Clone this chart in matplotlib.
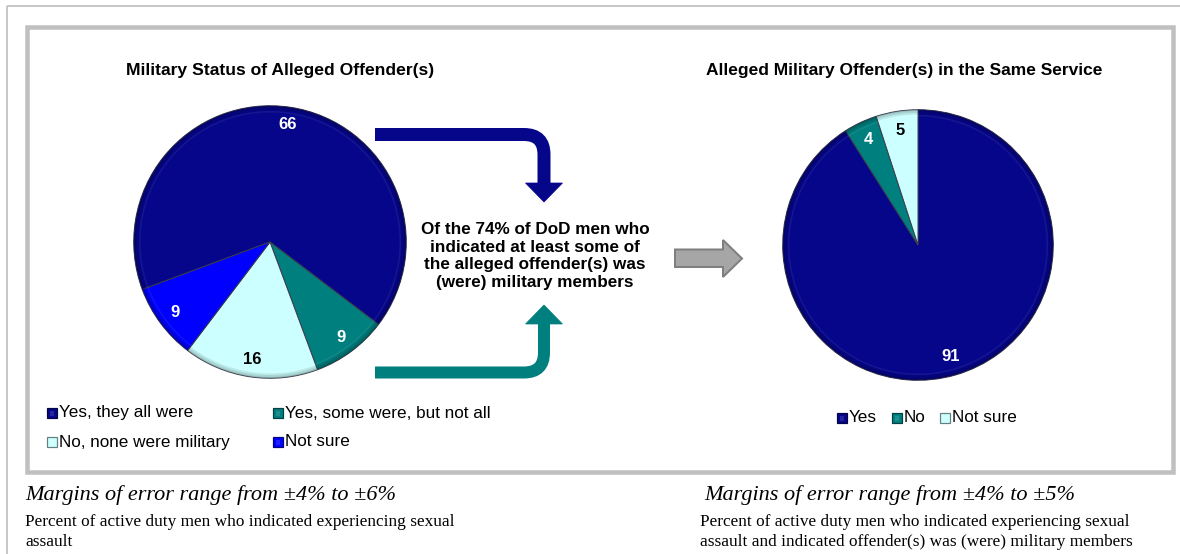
import matplotlib
matplotlib.use("Agg")
import matplotlib.pyplot as plt
import matplotlib.colors as mcolors
from matplotlib.patches import Rectangle, Polygon, PathPatch, Wedge
from matplotlib.path import Path

# ---------------- data ----------------
left_title = "Military Status of Alleged Offender(s)"
left_labels = ["Yes, they all were", "Yes, some were, but not all",
               "No, none were military", "Not sure"]
left_values = [66, 9, 16, 9]
left_colors = ["#06068a", "#007f7f", "#ccffff", "#0000ff"]

right_title = "Alleged Military Offender(s) in the Same Service"
right_labels = ["Yes", "No", "Not sure"]
right_values = [91, 4, 5]
right_colors = ["#06068a", "#007f7f", "#ccffff"]

middle_text = ("Of the 74% of DoD men who\nindicated at least some of\n"
               "the alleged offender(s) was\n(were) military members")
left_moe = "Margins of error range from \u00b14% to \u00b16%"
right_moe = "Margins of error range from \u00b14% to \u00b15%"
left_note = "Percent of active duty men who indicated experiencing sexual\nassault"
right_note = ("Percent of active duty men who indicated experiencing sexual\n"
              "assault and indicated offender(s) was (were) military members")

SANS = "Liberation Sans"
SERIF = "Liberation Serif"

W, H = 1180, 554
fig = plt.figure(figsize=(W / 100, H / 100), dpi=100)
fig.patch.set_facecolor("white")
bg = fig.add_axes([0, 0, 1, 1])
bg.set_xlim(0, W)
bg.set_ylim(H, 0)
bg.axis("off")

PX = 72 / 100  # points per pixel

# frames
bg.add_patch(Rectangle((7, 6), 1200, 600, fill=False, ec="#c8c8c8", lw=2 * PX))
bg.add_patch(Rectangle((27, 27), 1146, 445, fill=False, ec="#c0c0c0", lw=4.5 * PX))


def darker(c, f=0.6):
    r, g, b = mcolors.to_rgb(c)
    return (r * f, g * f, b * f)


def lighter(c, f=0.5):
    r, g, b = mcolors.to_rgb(c)
    return (r + (1 - r) * f, g + (1 - g) * f, b + (1 - b) * f)


def draw_pie(cx, cy, r, values, colors, start, pctd):
    ax = fig.add_axes([(cx - r) / W, 1 - (cy + r) / H, 2 * r / W, 2 * r / H])
    wedges, texts, autotexts = ax.pie(
        values, colors=colors, startangle=start, counterclock=False,
        radius=1, autopct=lambda p: f"{round(p)}", pctdistance=pctd,
        wedgeprops=dict(linewidth=0.7, edgecolor="#3a3a4a"),
        textprops=dict(fontfamily=SANS, fontsize=12, fontweight="bold"))
    for w, c, t in zip(wedges, colors, autotexts):
        t1, t2 = w.theta1, w.theta2
        # soft rim shading (bevel)
        for k, (rr, ww, a) in enumerate([(1.0, 0.012, 0.45), (0.988, 0.012, 0.3),
                                         (0.976, 0.012, 0.15)]):
            ax.add_patch(Wedge((0, 0), rr, t1, t2, width=ww,
                               fc=darker(c, 0.45), alpha=a, lw=0, zorder=3))
        ax.add_patch(Wedge((0, 0), 0.962, t1, t2, width=0.012,
                           fc=lighter(c, 0.5), alpha=0.12, lw=0, zorder=3))
        lum = sum(mcolors.to_rgb(c)) / 3
        t.set_color("black" if lum > 0.6 else "white")
        t.set_zorder(5)
    ax.set_xlim(-1.02, 1.02)
    ax.set_ylim(-1.02, 1.02)
    ax.axis("off")
    return ax


draw_pie(270, 242, 139, left_values, left_colors, 200.4, 0.87)
draw_pie(918, 245, 138, right_values, right_colors, 90, 0.86)

# titles
bg.text(280, 71, left_title, ha="center", va="center", fontfamily=SANS,
        fontsize=12.6, fontweight="bold", color="black")
bg.text(904, 71, right_title, ha="center", va="center", fontfamily=SANS,
        fontsize=12.5, fontweight="bold", color="black")

# middle text
bg.text(535, 256, middle_text, ha="center", va="center", fontfamily=SANS,
        fontsize=12.3, fontweight="bold", color="black", linespacing=1.22)


# bent arrows
def bent_arrow(y0, ytip, color, lw_px, down=True):
    xs, xc = 375, 544
    rad = 20
    sgn = 1 if down else -1
    yhead = ytip - sgn * 19
    verts = [(xs, y0), (xc - rad, y0), (xc, y0), (xc, y0 + sgn * rad), (xc, yhead)]
    codes = [Path.MOVETO, Path.LINETO, Path.CURVE3, Path.CURVE3, Path.LINETO]
    bg.add_patch(PathPatch(Path(verts, codes), fill=False, ec=color,
                           lw=lw_px * PX, capstyle="butt", joinstyle="miter"))
    bg.add_patch(Polygon([(xc - 18.5, yhead), (xc + 18.5, yhead), (xc, ytip)],
                         closed=True, fc=color, ec=color, lw=0.5))


bent_arrow(134.5, 202, "#06068a", 13, down=True)
bent_arrow(372.5, 305, "#007f7f", 12, down=False)

# gray arrow
bg.add_patch(Polygon([(675, 249.5), (723, 249.5), (723, 240), (742, 258.5),
                      (723, 277), (723, 267), (675, 267)], closed=True,
                     fc="#a6a6a6", ec="#7f7f7f", lw=2 * PX))


# legends
def legend_marker(x, y, c):
    bg.add_patch(Rectangle((x, y - 5), 9.5, 10, fc=c, ec=darker(c, 0.5), lw=1.2 * PX))
    bg.add_patch(Rectangle((x + 2.5, y - 2.5), 4.5, 5, fc=lighter(c, 0.12), ec="none"))


left_leg_x = [47, 273]
left_leg_y = [413, 442]
for i, (lab, c) in enumerate(zip(left_labels, left_colors)):
    x = left_leg_x[i % 2]
    y = left_leg_y[i // 2]
    legend_marker(x, y, c)
    bg.text(x + 12, y, lab, ha="left", va="center", fontfamily=SANS,
            fontsize=12.3, color="black")

right_leg_x = [837, 892, 940]
for x, lab, c in zip(right_leg_x, right_labels, right_colors):
    legend_marker(x, 418, c)
    bg.text(x + 12, 417, lab, ha="left", va="center", fontfamily=SANS,
            fontsize=12.3, color="black")

# footers
bg.text(25, 495, left_moe, ha="left", va="center", fontfamily=SERIF,
        fontsize=16, style="italic", color="black")
bg.text(704, 495, right_moe, ha="left", va="center", fontfamily=SERIF,
        fontsize=16, style="italic", color="black")
bg.text(25, 532, left_note, ha="left", va="center", fontfamily=SERIF,
        fontsize=12.4, color="black", linespacing=1.28)
bg.text(700, 532, right_note, ha="left", va="center", fontfamily=SERIF,
        fontsize=12.4, color="black", linespacing=1.28)

fig.savefig("out.png", dpi=100, facecolor="white")
